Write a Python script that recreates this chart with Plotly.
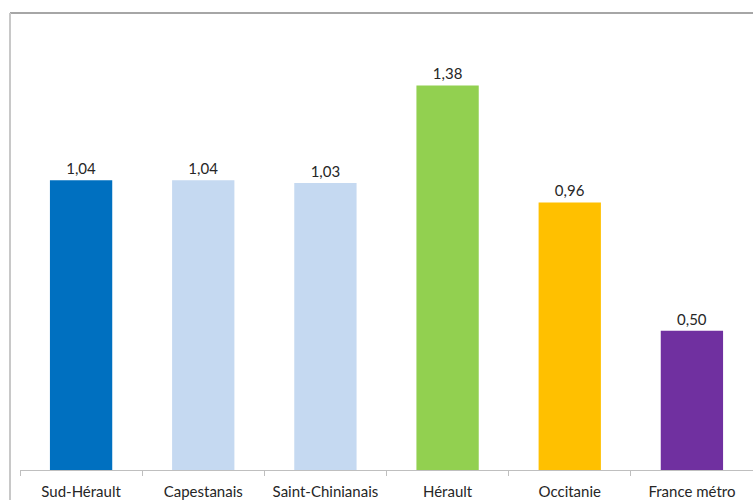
import plotly.graph_objects as go

categories = ["Sud-Hérault", "Capestanais", "Saint-Chinianais", "Hérault", "Occitanie", "France métro"]
values = [1.04, 1.04, 1.03, 1.38, 0.96, 0.50]
colors = ["#0070C0", "#C5D9F1", "#C5D9F1", "#92D050", "#FFC000", "#7030A0"]

W, H = 753, 500
ml, mr, mt, mb = 20, 0, 13, 30
pw = W - ml - mr
ph = H - mt - mb

fig = go.Figure(go.Bar(
    x=categories, y=values,
    marker=dict(color=colors, line=dict(width=0)),
    width=0.51,
    text=values,
    texttemplate="%{y:.2f}",
    textposition="outside",
    textfont=dict(family="Lato", size=15, color="#262626"),
    cliponaxis=False,
))

fig.update_layout(
    width=W, height=H,
    margin=dict(l=ml, r=mr, t=mt, b=mb, pad=0),
    paper_bgcolor="white", plot_bgcolor="white",
    separators=", ",
    showlegend=False,
    xaxis=dict(
        showline=True, linecolor="#BFBFBF", linewidth=1,
        ticks="outside", tickson="boundaries", ticklen=5, tickcolor="#BFBFBF",
        ticklabelstandoff=8,
        tickfont=dict(family="Lato", size=15, color="#262626"),
        showgrid=False, zeroline=False,
    ),
    yaxis=dict(
        range=[0, 1.64], visible=False, showgrid=False, zeroline=False,
    ),
    shapes=[
        dict(type="line", xref="paper", yref="paper",
             x0=-10 / pw, x1=1.01, y0=1, y1=1,
             line=dict(color="#A6A6A6", width=2)),
        dict(type="line", xref="paper", yref="paper",
             x0=-10 / pw, x1=-10 / pw, y0=1, y1=-40 / ph,
             line=dict(color="#C8C8C8", width=2)),
    ],
)

fig.write_html("out.html")
